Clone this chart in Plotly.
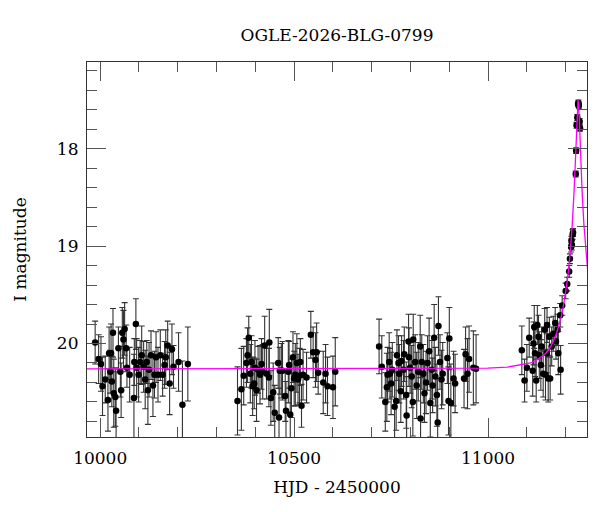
import plotly.graph_objects as go

# OGLE photometry (HJD - 2450000, I mag, error)
hjd_s1 = [9987, 9996, 10002, 10006, 10013, 10020, 10023, 10026, 10028, 10030,
          10033, 10035, 10039, 10041, 10047, 10052, 10054, 10057, 10060, 10063,
          10067, 10069, 10076, 10087, 10088, 10092, 10094, 10099, 10103, 10107,
          10112, 10116, 10120, 10123, 10126, 10131, 10136, 10140, 10144, 10149,
          10155, 10161, 10166, 10169, 10174, 10179, 10185, 10189, 10202, 10212, 10226]
mag_s1 = [19.99, 20.16, 20.21, 20.44, 20.37, 20.58, 20.10, 20.29, 20.10, 20.39,
          19.89, 20.51, 20.55, 20.69, 20.05, 20.29, 20.48, 19.89, 19.96, 19.85,
          20.05, 20.25, 20.32, 20.56, 20.19, 19.80, 20.25, 20.32, 20.19, 20.12,
          20.24, 20.37, 20.19, 20.48, 20.27, 20.12, 20.43, 20.32, 20.14, 20.32,
          20.12, 20.32, 20.22, 20.14, 20.02, 20.41, 20.06, 20.24, 20.19, 20.63, 20.21]
err_s1 = [0.22, 0.25, 0.28, 0.30, 0.24, 0.32, 0.27, 0.22, 0.30, 0.26,
          0.25, 0.35, 0.30, 0.40, 0.22, 0.26, 0.28, 0.26, 0.30, 0.27,
          0.24, 0.20, 0.28, 0.45, 0.24, 0.26, 0.30, 0.28, 0.22, 0.30,
          0.26, 0.30, 0.22, 0.35, 0.28, 0.25, 0.32, 0.24, 0.26, 0.28,
          0.26, 0.22, 0.24, 0.28, 0.25, 0.32, 0.26, 0.22, 0.30, 0.45, 0.38]

hjd_s2 = [10354, 10364, 10370, 10377, 10380, 10383, 10387, 10390, 10393, 10397,
          10399, 10403, 10407, 10412, 10416, 10419, 10424, 10429, 10435, 10436,
          10440, 10446, 10450, 10459, 10461, 10463, 10467, 10470, 10477, 10479,
          10485, 10487, 10490, 10493, 10497, 10500, 10503, 10507, 10510, 10514,
          10516, 10519, 10523, 10532, 10543, 10549, 10555, 10558, 10562, 10575,
          10581, 10586, 10600, 10606]
mag_s2 = [20.59, 20.47, 20.33, 20.20, 20.12, 19.94, 20.31, 20.19, 20.44, 20.41,
          20.25, 20.48, 20.27, 20.32, 20.21, 20.29, 20.02, 20.31, 20.35, 19.99,
          20.56, 20.50, 20.71, 20.20, 20.76, 20.28, 20.28, 20.28, 20.54, 20.69,
          20.29, 20.22, 20.73, 20.46, 20.14, 20.36, 20.32, 20.20, 20.37, 20.33,
          20.19, 20.64, 20.32, 20.35, 19.91, 20.09, 20.17, 20.09, 20.30, 20.40,
          20.31, 20.44, 20.45, 20.29]
err_s2 = [0.35, 0.42, 0.30, 0.25, 0.28, 0.22, 0.30, 0.27, 0.30, 0.26,
          0.28, 0.32, 0.24, 0.30, 0.26, 0.28, 0.30, 0.26, 0.30, 0.34,
          0.28, 0.30, 0.28, 0.26, 0.30, 0.24, 0.28, 0.30, 0.26, 0.30,
          0.32, 0.24, 0.28, 0.30, 0.26, 0.28, 0.32, 0.30, 0.26, 0.28,
          0.24, 0.22, 0.26, 0.26, 0.24, 0.26, 0.28, 0.30, 0.22, 0.32,
          0.30, 0.30, 0.32, 0.35]

hjd_s3 = [10719, 10726, 10735, 10739, 10741, 10745, 10747, 10750, 10753, 10759,
          10763, 10765, 10769, 10771, 10775, 10777, 10782, 10784, 10789, 10790,
          10795, 10796, 10799, 10803, 10806, 10807, 10812, 10816, 10820, 10825,
          10826, 10829, 10833, 10836, 10840, 10844, 10848, 10851, 10855, 10857,
          10861, 10864, 10868, 10870, 10872, 10876, 10880, 10883, 10895, 10898,
          10900, 10904, 10911, 10915, 10938, 10942, 10947, 10951, 10962, 10969]
mag_s3 = [20.03, 20.24, 20.60, 20.45, 20.32, 20.19, 20.31, 20.41, 20.27, 20.65,
          20.59, 20.12, 20.20, 20.31, 20.49, 20.18, 20.27, 20.11, 20.53, 20.74,
          19.98, 20.14, 20.25, 20.34, 20.60, 19.96, 20.19, 20.43, 20.29, 20.03,
          20.77, 20.19, 20.31, 20.51, 20.40, 20.20, 20.08, 20.61, 20.27, 20.43,
          19.94, 20.34, 20.53, 20.81, 19.82, 20.19, 20.37, 20.31, 20.15, 20.59,
          19.95, 20.61, 20.36, 20.41, 20.36, 20.11, 20.31, 20.16, 20.25, 20.26]
err_s3 = [0.28, 0.32, 0.30, 0.35, 0.28, 0.30, 0.26, 0.32, 0.28, 0.35,
          0.30, 0.26, 0.28, 0.30, 0.32, 0.26, 0.30, 0.28, 0.34, 0.40,
          0.28, 0.30, 0.26, 0.32, 0.35, 0.26, 0.28, 0.34, 0.30, 0.32,
          0.45, 0.28, 0.30, 0.30, 0.32, 0.28, 0.34, 0.35, 0.30, 0.28,
          0.34, 0.30, 0.32, 0.45, 0.30, 0.28, 0.30, 0.32, 0.26, 0.35,
          0.32, 0.40, 0.28, 0.30, 0.30, 0.28, 0.36, 0.34, 0.38, 0.35]

hjd_s4 = [11087, 11094, 11100, 11106, 11115, 11117, 11119, 11121, 11124, 11127,
          11130, 11132, 11136, 11138, 11142, 11146, 11148, 11151, 11152, 11155,
          11158, 11160, 11164, 11168, 11173, 11175, 11179, 11181, 11186, 11187,
          11191, 11200, 11204, 11209, 11211, 11214, 11216, 11215, 11218, 11219,
          11226, 11227, 11228, 11230, 11233, 11234, 11236, 11237, 11232]
mag_s4 = [20.07, 20.38, 20.25, 19.94, 20.28, 20.00, 19.83, 20.10, 20.38, 19.81,
          19.93, 20.12, 20.22, 20.03, 20.31, 19.86, 20.32, 20.10, 19.81, 20.36,
          19.93, 20.36, 20.03, 19.90, 19.79, 19.98, 19.86, 20.10, 19.71, 20.27,
          19.61, 19.46, 19.39, 19.26, 19.13, 19.01, 18.99, 18.94, 18.88, 18.86,
          18.26, 18.02, 17.76, 17.68, 17.53, 17.56, 17.72, 17.79, 17.54]
err_s4 = [0.25, 0.22, 0.24, 0.20, 0.26, 0.22, 0.22, 0.24, 0.22, 0.20,
          0.22, 0.24, 0.26, 0.20, 0.24, 0.22, 0.26, 0.20, 0.18, 0.24,
          0.20, 0.22, 0.20, 0.18, 0.16, 0.18, 0.16, 0.22, 0.12, 0.25,
          0.10, 0.08, 0.07, 0.06, 0.05, 0.05, 0.05, 0.04, 0.05, 0.04,
          0.03, 0.03, 0.03, 0.03, 0.03, 0.03, 0.03, 0.03, 0.03]

# microlensing model, tabulated
model_hjd = [9966, 10899, 10999, 11049, 11099, 11110, 11129, 11140, 11149, 11160,
             11169, 11177, 11184, 11189, 11194, 11199, 11204, 11211, 11217, 11222,
             11226, 11229, 11232, 11235, 11238, 11242, 11247, 11253, 11257]
model_mag = [20.26, 20.258, 20.253, 20.243, 20.21, 20.20, 20.16, 20.13, 20.10, 20.04,
             19.97, 19.89, 19.80, 19.72, 19.62, 19.51, 19.36, 19.10, 18.78, 18.41,
             18.01, 17.67, 17.49, 17.67, 18.01, 18.41, 18.78, 19.10, 19.26]

hjd = hjd_s1 + hjd_s2 + hjd_s3 + hjd_s4
mag = mag_s1 + mag_s2 + mag_s3 + mag_s4
err = err_s1 + err_s2 + err_s3 + err_s4

font = "DejaVu Serif"

fig = go.Figure()
fig.add_trace(go.Scatter(
    x=hjd, y=mag, mode='markers',
    marker=dict(color='black', size=6.5),
    error_y=dict(type='data', array=err, color='#333', thickness=1.1, width=3),
    showlegend=False,
))
fig.add_trace(go.Scatter(
    x=model_hjd, y=model_mag, mode='lines',
    line=dict(color='#ff00ff', width=1.3),
    showlegend=False,
))

axis_common = dict(
    showline=True, linecolor='#333', linewidth=1.2, mirror='allticks',
    ticks='inside', ticklen=19, tickcolor='#555', tickwidth=1,
    showgrid=False, zeroline=False, automargin=False,
    tickfont=dict(family=font, size=17, color='black'),
)

# page is drawn with an 8px body offset, so the figure is 592x504
fig.update_xaxes(
    range=[9966, 11255], tick0=10000, dtick=500, tickformat='d',
    minor=dict(ticks='inside', ticklen=10, dtick=100, tick0=10000, tickcolor='#555'),
    title=dict(text='HJD - 2450000', font=dict(family=font, size=17, color='black'),
               standoff=14),
    ticklabelstandoff=5,
    **axis_common,
)
fig.update_yaxes(
    range=[20.96, 17.11], tick0=18, dtick=1,
    minor=dict(ticks='inside', ticklen=10, dtick=0.2, tick0=18, tickcolor='#555'),
    title=dict(text='I magnitude', font=dict(family=font, size=17, color='black'),
               standoff=25),
    ticklabelstandoff=4,
    **axis_common,
)

fig.update_layout(
    width=592, height=504,
    margin=dict(l=79, r=13, t=54, b=75),
    paper_bgcolor='white', plot_bgcolor='white',
    title=dict(text='OGLE-2026-BLG-0799', x=0.5, xref='paper', xanchor='center',
               y=0.946, yanchor='middle',
               font=dict(family=font, size=17, color='black')),
)

fig.write_html("out.html")
